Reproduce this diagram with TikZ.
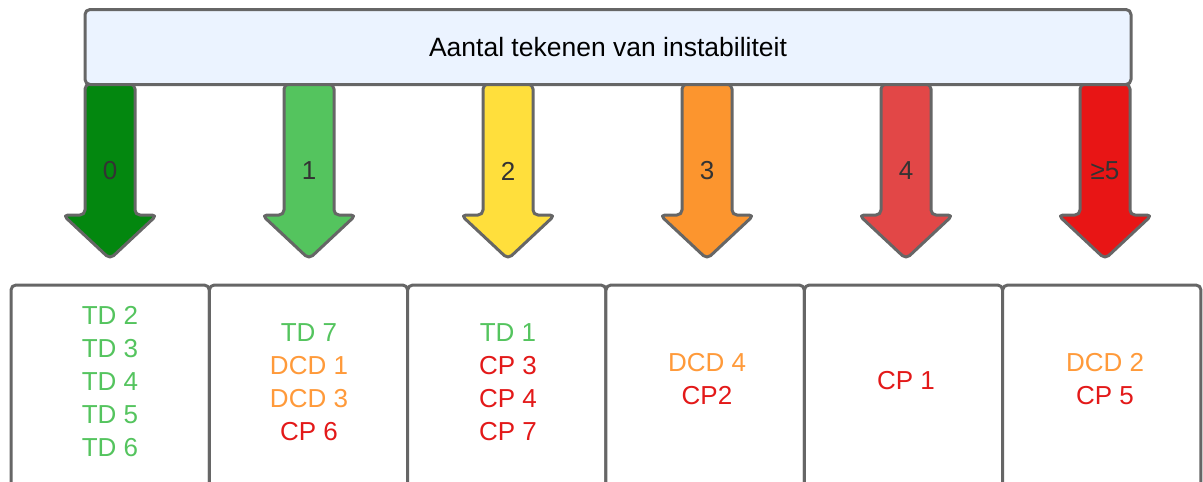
\documentclass[tikz,border=0pt]{standalone}
\usepackage{fontspec}
\setmainfont{Liberation Sans}
\definecolor{edge}{HTML}{666666}
\definecolor{barfill}{HTML}{EBF3FF}
\definecolor{cA}{HTML}{03870F}
\definecolor{cB}{HTML}{54C45E}
\definecolor{cC}{HTML}{FFDF3C}
\definecolor{cD}{HTML}{FC952E}
\definecolor{cE}{HTML}{E24747}
\definecolor{cF}{HTML}{E81515}
\definecolor{tgreen}{HTML}{54C45E}
\definecolor{torange}{HTML}{FF9A3A}
\definecolor{tred}{HTML}{E31919}
\definecolor{tdark}{HTML}{333333}
\begin{document}
\begin{tikzpicture}[x=1pt,y=-1pt,
  outline/.style={draw=edge,line width=3pt,rounded corners=5pt,line join=round},
  txt/.style={font=\fontsize{26}{33}\selectfont,align=center,inner sep=0pt},
  arrowlabel/.style={txt,text=tdark},
  cellbox/.style={outline,fill=white}]
\useasboundingbox (0,0) rectangle (1203,482);
\begin{scope}
\clip (0,0) rectangle (1203,482);
% arrows
\foreach \cx/\col/\lab [count=\i] in {110/cA/0,309/cB/1,508/cC/2,707/cD/3,906/cE/4,1105/cF/{≥5}}{
  \draw[outline,fill=\col] (\cx-25,84) -- (\cx+25,84) -- (\cx+25,215) -- (\cx+47,215)
     -- (\cx,259) -- (\cx-47,215) -- (\cx-25,215) -- cycle;
  \node[arrowlabel] (lab\i) at (\cx,171) {\lab};
}
% top bar
\node[outline,fill=barfill,minimum width=1046pt,minimum height=75pt,inner sep=0pt,
  font=\fontsize{26.5}{30}\selectfont] (bar) at (608,47) {Aantal tekenen van instabiliteit};
% boxes
\foreach \i in {0,...,5}{
  \pgfmathsetmacro{\lx}{11+\i*198.33}
  \draw[cellbox] (\lx,285) rectangle (\lx+198.33,500);
}
\node[txt,text=tgreen] (b1) at (110,382) {TD 2\\TD 3\\TD 4\\TD 5\\TD 6};
\node[txt] (b2) at (309,382) {\textcolor{tgreen}{TD 7}\\\textcolor{torange}{DCD 1}\\\textcolor{torange}{DCD 3}\\\textcolor{tred}{CP 6}};
\node[txt] (b3) at (508,382) {\textcolor{tgreen}{TD 1}\\\textcolor{tred}{CP 3}\\\textcolor{tred}{CP 4}\\\textcolor{tred}{CP 7}};
\node[txt] (b4) at (707,379) {\textcolor{torange}{DCD 4}\\\textcolor{tred}{CP2}};
\node[txt,text=tred] (b5) at (906,381) {CP 1};
\node[txt] (b6) at (1105,379) {\textcolor{torange}{DCD 2}\\\textcolor{tred}{CP 5}};
\end{scope}
\end{tikzpicture}
\end{document}
